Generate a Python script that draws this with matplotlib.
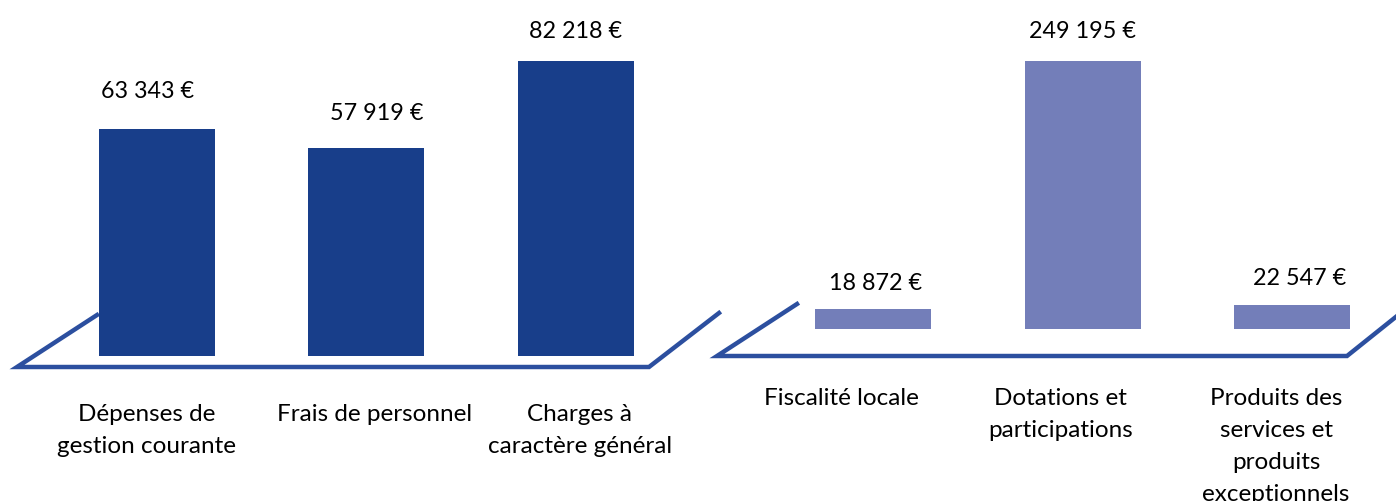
import matplotlib
matplotlib.use("Agg")
import matplotlib.pyplot as plt
from matplotlib.transforms import blended_transform_factory

# ---------------- data ----------------
dep_labels = ["Dépenses de\ngestion courante", "Frais de personnel", "Charges à\ncaractère général"]
dep_values = [63343, 57919, 82218]
rec_labels = ["Fiscalité locale", "Dotations et\nparticipations",
              "Produits des\nservices et\nproduits\nexceptionnels"]
rec_values = [18872, 249195, 22547]

# ---------------- style ----------------
W, H = 1396, 502
DARK = "#183e8a"
LIGHT = "#737eb9"
FLOOR = "#2c4f9f"
LINE_H = 32  # pixels between label lines
plt.rcParams["font.family"] = ["Lato", "DejaVu Sans"]

fig = plt.figure(figsize=(W / 100, H / 100), dpi=100)
fig.patch.set_facecolor("white")

overlay = fig.add_axes([0, 0, 1, 1])
overlay.set_xlim(0, W)
overlay.set_ylim(H, 0)
overlay.axis("off")

# decorative perspective floors (pixel coordinates)
floors = [
    ([97, 17, 649, 719], [316, 368, 368, 314]),
    ([797, 717, 1347, 1412], [305, 357, 357, 305]),
]
for fx, fy in floors:
    overlay.plot(fx, fy, color=FLOOR, lw=3.2, solid_joinstyle="miter", clip_on=False)


def fmt(v):
    return f"{v:,}".replace(",", " ") + " €"


def panel(x0, base, top, values, labels, color, first_center, spacing, bar_w,
          lab_dx, lab_base, val_dx, val_dy):
    ax = fig.add_axes([x0 / W, (H - base) / H, 698 / W, base / H])
    ax.set_xlim(-(first_center - x0) / spacing, (x0 + 698 - first_center) / spacing)
    ax.set_ylim(0, max(values) * base / (base - top))
    ax.axis("off")
    xs = list(range(len(values)))
    ax.bar(xs, values, width=bar_w / spacing, color=color)
    for i, v in zip(xs, values):
        ax.annotate(fmt(v), (i, v), xytext=(val_dx[i], val_dy[i]),
                    textcoords="offset pixels", ha="center", va="baseline",
                    fontsize=16.8, color="black")
    trans = blended_transform_factory(ax.transData, overlay.transData)
    for i, lab in zip(xs, labels):
        for k, line in enumerate(lab.split("\n")):
            ax.text(i + lab_dx[i] / spacing, lab_base + k * LINE_H, line,
                    transform=trans, ha="center", va="baseline",
                    fontsize=17.5, color="black", clip_on=False)


panel(0, 357, 62, dep_values, dep_labels, DARK, 157, 209.5, 116,
      [-10, 8, 4], 421, [-9, 10, 0], [32, 29, 24])
panel(698, 330, 62, rec_values, rec_labels, LIGHT, 873, 209.5, 116,
      [-32, -22, -16], 405, [3, 0, 8], [20, 24, 21])

fig.savefig("out.png", dpi=100, facecolor="white")
